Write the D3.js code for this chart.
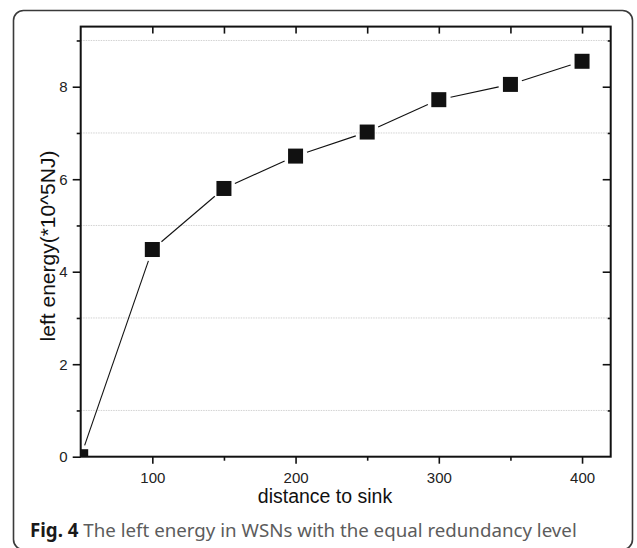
<!DOCTYPE html>
<html>
<head>
<meta charset="utf-8">
<script src="https://cdn.jsdelivr.net/npm/d3@7"></script>
<style>
  body { margin: 0; background: #fff; }
  svg { display: block; }
</style>
</head>
<body>
<svg id="chart"></svg>
<script>
// data
const distance = [50, 100, 150, 200, 250, 300, 350, 400];
const leftEnergy = [0, 4.48, 5.8, 6.5, 7.02, 7.72, 8.05, 8.55];
const xMajorTicks = [100, 200, 300, 400];
const xMinorTicks = [150, 250, 350];
const yMajorTicks = [0, 2, 4, 6, 8];
const yMinorTicks = [1, 3, 5, 7, 9];

const width = 637, height = 548;
const plotLeft = 80.7, plotRight = 610.7, plotTop = 26.6, plotBottom = 456.7;

var svg = d3.select("#chart")
            .attr("width", width)
            .attr("height", height);

// outer rounded frame
svg.append("rect")
   .attr("x", 13.5).attr("y", 10.5)
   .attr("width", 619).attr("height", 539)
   .attr("rx", 10).attr("ry", 10)
   .attr("fill", "none")
   .attr("stroke", "#3a3a3a")
   .attr("stroke-width", 1.6);

let x = d3.scaleLinear().domain([50, 420]).range([plotLeft, plotRight]);
let y = d3.scaleLinear().domain([0, 9.3]).range([plotBottom, plotTop]);

svg.append("clipPath").attr("id", "plotclip")
   .append("rect")
   .attr("x", plotLeft).attr("y", plotTop)
   .attr("width", plotRight - plotLeft).attr("height", plotBottom - plotTop);

// dotted grid at odd values
svg.append("g")
   .selectAll("line")
   .data(yMinorTicks)
   .enter()
   .append("line")
   .attr("x1", plotLeft).attr("x2", plotRight)
   .attr("y1", d => y(d)).attr("y2", d => y(d))
   .attr("stroke", "#d2d2d2")
   .attr("stroke-width", 1)
   .attr("stroke-dasharray", "1.5,1");

function add_axis(axis, tx, ty) {
  let g = svg.append("g")
             .attr("transform", "translate(" + tx + "," + ty + ")")
             .call(axis);
  g.select(".domain").remove();
  g.selectAll("line").attr("stroke", "#111").attr("stroke-width", 1.6);
  g.selectAll("text")
   .attr("font-family", "'Liberation Sans', Arial, sans-serif")
   .attr("font-size", 15)
   .attr("fill", "#222");
  return g;
}

// bottom axis: outward ticks
add_axis(d3.axisBottom(x).tickValues(xMajorTicks).tickSize(7).tickPadding(9).tickFormat(d3.format("d")), 0, plotBottom);
add_axis(d3.axisBottom(x).tickValues(xMinorTicks).tickSize(4).tickFormat(""), 0, plotBottom);
// top axis: inward ticks
add_axis(d3.axisTop(x).tickValues(xMajorTicks.concat(xMinorTicks)).tickSize(-7).tickFormat(""), 0, plotTop);
// left axis: outward ticks
add_axis(d3.axisLeft(y).tickValues(yMajorTicks).tickSize(8).tickPadding(5).tickFormat(d3.format("d")), plotLeft, 0);
add_axis(d3.axisLeft(y).tickValues(yMinorTicks).tickSize(4).tickFormat(""), plotLeft, 0);
// right axis: inward ticks
add_axis(d3.axisRight(y).tickValues(yMajorTicks.slice(1)).tickSize(-8).tickFormat(""), plotRight, 0);
add_axis(d3.axisRight(y).tickValues(yMinorTicks).tickSize(-3).tickFormat(""), plotRight, 0);

// axis box
svg.append("rect")
   .attr("x", plotLeft).attr("y", plotTop)
   .attr("width", plotRight - plotLeft).attr("height", plotBottom - plotTop)
   .attr("fill", "none")
   .attr("stroke", "#111")
   .attr("stroke-width", 2);

// connecting line, with a gap around each marker
const gap = 12;
let plot = svg.append("g").attr("clip-path", "url(#plotclip)");
let segs = d3.pairs(distance.map((d, i) => [x(d), y(leftEnergy[i])]));
plot.selectAll("line.seg")
    .data(segs)
    .enter()
    .append("line")
    .attr("class", "seg")
    .each(function(s) {
      let dx = s[1][0] - s[0][0], dy = s[1][1] - s[0][1];
      let len = Math.sqrt(dx * dx + dy * dy);
      let ux = dx / len, uy = dy / len;
      d3.select(this)
        .attr("x1", s[0][0] + ux * gap).attr("y1", s[0][1] + uy * gap)
        .attr("x2", s[1][0] - ux * gap).attr("y2", s[1][1] - uy * gap);
    })
    .attr("stroke", "#111")
    .attr("stroke-width", 1.1);

const ms = 15;
plot.selectAll("rect.pt")
    .data(distance)
    .enter()
    .append("rect")
    .attr("class", "pt")
    .attr("x", d => x(d) - ms / 2)
    .attr("y", (d, i) => y(leftEnergy[i]) - ms / 2)
    .attr("width", ms).attr("height", ms)
    .attr("fill", "#111");

// axis titles
svg.append("text")
   .attr("x", 325).attr("y", 503)
   .attr("text-anchor", "middle")
   .attr("font-family", "'Liberation Sans', Arial, sans-serif")
   .attr("font-size", 19.5)
   .attr("fill", "#111")
   .text("distance to sink");

svg.append("text")
   .attr("transform", "translate(54.5,246) rotate(-90)")
   .attr("text-anchor", "middle")
   .attr("font-family", "'Liberation Sans', Arial, sans-serif")
   .attr("font-size", 21)
   .attr("fill", "#111")
   .text("left energy(*10^5NJ)");

// caption
let cap = svg.append("text")
   .attr("x", 30).attr("y", 537)
   .attr("font-family", "'Noto Sans', 'Open Sans', sans-serif")
   .attr("font-size", 18);
cap.append("tspan").attr("font-weight", "bold").attr("fill", "#1a1a1a").text("Fig. 4");
cap.append("tspan").attr("fill", "#5c5c5c").text(" The left energy in WSNs with the equal redundancy level");
let capLen = cap.node().getComputedTextLength();
cap.attr("font-size", 18 * 547 / capLen);
</script>
</body>
</html>
